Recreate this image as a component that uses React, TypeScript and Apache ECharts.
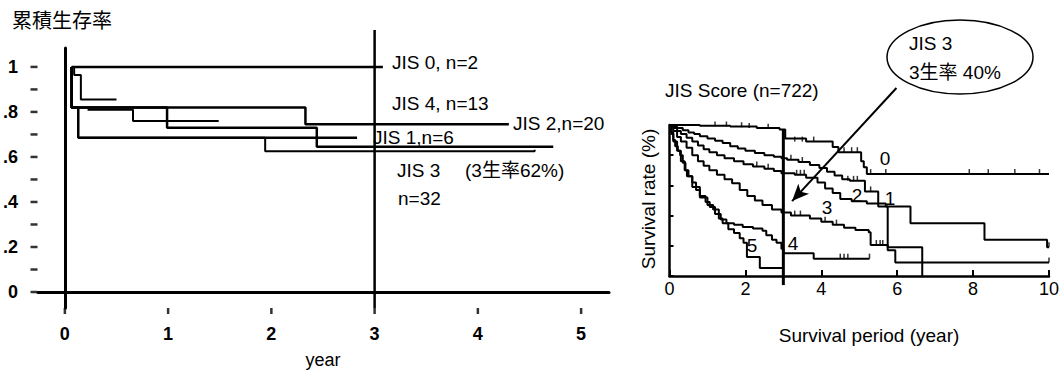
import React, { useEffect, useRef } from 'react';
import * as echarts from 'echarts';

// ---------- Left chart (累積生存率) ----------
const leftYearTicks = [0, 1, 2, 3, 4, 5];
const leftRateTicks = [0, 0.1, 0.2, 0.3, 0.4, 0.5, 0.6, 0.7, 0.8, 0.9, 1.0];
const leftRateLabels = [0, 0.2, 0.4, 0.6, 0.8, 1.0];
const leftXMin = -0.26;
const leftXMax = 5.27;
const leftYMin = -0.071;
const leftYMax = 1.084;

// [time (year), survival after event]
const jis0Left = [[0.065, 1.0], [3.08, 1.0]];
const jis4Left = [[0.065, 1.0], [0.09, 0.964], [0.155, 0.855], [0.5, 0.855]];
const jis4bLeft = [[0.22, 0.81], [0.66, 0.76], [1.49, 0.76]];
const jis2Left = [[0.065, 1.0], [0.065, 0.82], [2.33, 0.745], [4.3, 0.745]];
const jis1Left = [[0.065, 1.0], [0.065, 0.82], [0.13, 0.685], [2.83, 0.685]];
const jis3Left = [[0.065, 1.0], [0.065, 0.82], [0.99, 0.73], [2.44, 0.645], [4.73, 0.645]];
const jis3bLeft = [[0.13, 0.685], [1.94, 0.625], [4.55, 0.632]];
const threeYearLeft = [[3, -0.071], [3, 1.164]];

// ---------- Right chart (JIS Score n=722) ----------
const score0 = [[0, 100], [0.8, 99.5], [1.6, 99], [2.3, 98], [2.9, 97], [3.05, 91], [3.6, 89], [4.3, 85.5], [4.45, 82], [5.05, 76], [5.12, 72], [5.2, 67.5], [10, 67.5]];
const score1 = [[0, 100], [0.1, 99], [0.2, 98], [0.35, 96.5], [0.5, 95], [0.65, 94], [0.8, 92.5], [1.0, 91], [1.2, 89.5], [1.4, 88], [1.6, 86], [1.8, 84.5], [2.0, 83], [2.25, 81.5], [2.5, 80], [2.75, 79], [2.95, 78], [3.1, 77], [3.4, 75.5], [3.7, 73.5], [3.95, 71.5], [4.15, 69], [4.35, 66.5], [4.55, 64], [4.75, 63], [5.15, 56], [5.5, 46], [6.35, 35], [8.3, 24], [9.95, 19], [10, 19]];
const score2 = [[0, 100], [0.1, 98], [0.2, 96], [0.3, 94], [0.45, 91.5], [0.6, 89], [0.75, 86.5], [0.9, 84], [1.05, 82], [1.25, 80], [1.45, 78], [1.7, 76], [1.95, 74], [2.2, 72.5], [2.5, 71], [2.75, 69.5], [2.95, 68], [3.3, 67], [3.6, 65], [3.9, 62], [4.1, 58], [4.3, 55], [4.5, 51], [4.8, 49.5], [5.2, 48], [5.7, 46], [5.75, 19], [6.66, 0]];
const score3 = [[0, 100], [0.1, 96], [0.2, 92], [0.3, 89], [0.45, 85], [0.6, 80], [0.75, 76], [0.9, 73], [1.05, 70], [1.25, 67], [1.45, 64], [1.65, 61.5], [1.85, 57], [2.05, 53], [2.25, 50], [2.45, 47], [2.7, 44], [2.95, 42], [3.2, 40], [3.7, 38], [4.0, 36], [4.3, 34], [4.6, 32], [4.9, 30.5], [5.25, 29], [5.3, 20.5], [5.75, 17], [5.95, 9], [10, 9]];
const score4 = [[0, 100], [0.05, 95], [0.1, 90], [0.15, 86], [0.22, 83], [0.28, 80], [0.35, 75], [0.42, 70], [0.5, 66], [0.6, 62], [0.7, 57], [0.8, 53], [0.95, 49], [1.06, 45.7], [1.2, 41], [1.35, 37.5], [1.5, 35], [1.7, 34], [1.93, 32.5], [2.2, 31.5], [2.45, 30], [2.55, 27], [2.7, 24], [2.82, 22], [2.95, 18], [3.0, 15], [3.8, 11.5], [5.27, 11.5]];
const score5 = [[0, 100], [0.05, 94], [0.1, 89], [0.2, 83], [0.3, 76], [0.4, 70], [0.46, 66], [0.6, 59], [0.8, 52], [1.0, 47], [1.15, 44], [1.3, 38], [1.4, 35], [1.55, 31], [1.7, 28.5], [1.85, 25], [1.95, 22], [2.04, 12.6], [2.38, 5.3], [3.0, 5.3]];
const censorRight = [
  [1.2, 99], [1.5, 99], [1.9, 98.5], [2.1, 98], [2.6, 97.5], [3.3, 89], [3.5, 89], [3.8, 89], [4.6, 82], [4.8, 82], [4.95, 82],
  [5.3, 67.5], [5.7, 67.5], [7.9, 67.5], [8.4, 67.5], [9.1, 67.5], [9.75, 67.5],
  [3.2, 77], [3.5, 75.5], [4.7, 63], [4.85, 63], [4.95, 63], [5.3, 56], [10, 19],
  [3.35, 67], [3.45, 67], [3.55, 67], [2.3, 72.5], [2.6, 71],
  [3.3, 40], [3.45, 40], [4.1, 36], [4.4, 34], [5.45, 20.5], [5.55, 20.5], [5.62, 20.5], [10, 9],
  [4.5, 11.5], [4.6, 11.5], [4.7, 11.5], [5.27, 11.5], [3.0, 5.3],
];
const threeYearRight = [[3, -6], [3, 97]];
const arrowRight = [[5.98, 124.5], [3.23, 49.6]];

const FONT = '"Liberation Sans", Arial, "Noto Sans CJK JP", sans-serif';
const CJK = '"Noto Sans CJK JP", "Liberation Sans", sans-serif';

function stepSeries(data: number[][], grid: number, width: number) {
  return {
    type: 'line', xAxisIndex: grid, yAxisIndex: grid, data, step: 'end',
    symbol: 'none', lineStyle: { color: '#000', width }, silent: true,
  };
}

function txt(text: string, x: number, y: number, size: number, extra: any = {}) {
  return {
    type: 'text', x, y, ...extra,
    style: { text, fill: '#000', font: `${size}px ${FONT}`, textAlign: 'left', textVerticalAlign: 'middle', ...(extra.style || {}) },
  };
}

export default function App() {
  const ref = useRef<HTMLDivElement>(null);
  useEffect(() => {
    if (!ref.current) return;
    const chart = echarts.init(ref.current, undefined, { renderer: 'svg' });
    const leftLabel = (v: number) => (v === 0 ? '0' : v === 1 ? '1' : '.' + Math.round(v * 10));
    const yTickMarks = leftRateTicks.map((v) => [leftXMin, v]);
    const xTickMarks = leftYearTicks.map((v) => [v, leftYMin]);
    const option: any = {
      animation: false,
      backgroundColor: '#fff',
      grid: [
        { left: 37, right: 453, top: 48, bottom: 65 },
        { left: 669.5, right: 12, top: 125, bottom: 97 },
      ],
      xAxis: [
        {
          gridIndex: 0, type: 'value', min: leftXMin, max: leftXMax,
          axisLine: { lineStyle: { color: '#000', width: 3 } },
          axisTick: { show: false },
          axisLabel: { color: '#000', fontSize: 18, fontWeight: 'bold', fontFamily: FONT, margin: 17, customValues: leftYearTicks },
          splitLine: { show: false },
        },
        {
          gridIndex: 1, type: 'value', min: 0, max: 10, interval: 2,
          axisLine: { lineStyle: { color: '#000', width: 2.5 } },
          axisTick: { inside: true, length: 6, lineStyle: { color: '#000', width: 2 } },
          axisLabel: { color: '#000', fontSize: 18, fontFamily: FONT, margin: 4 },
          splitLine: { show: false },
        },
      ],
      yAxis: [
        {
          gridIndex: 0, type: 'value', min: leftYMin, max: leftYMax,
          axisLine: { show: true, lineStyle: { color: '#000', width: 3 } },
          axisTick: { show: false },
          axisLabel: { color: '#000', fontSize: 18, fontWeight: 'bold', fontFamily: FONT, margin: 20, customValues: leftRateLabels, formatter: leftLabel },
          splitLine: { show: false },
        },
        {
          gridIndex: 1, type: 'value', min: 0, max: 100, interval: 20,
          axisLine: { show: true, lineStyle: { color: '#000', width: 2.5 } },
          axisTick: { show: true, inside: true, length: 4, lineStyle: { color: '#000', width: 2 } },
          axisLabel: { show: false },
          splitLine: { show: false },
        },
      ],
      series: [
        {
          type: 'scatter', xAxisIndex: 0, yAxisIndex: 0, data: yTickMarks, symbol: 'rect', clip: false,
          symbolSize: [7, 2.5], symbolOffset: [-4, 0], itemStyle: { color: '#000' }, silent: true,
        },
        {
          type: 'scatter', xAxisIndex: 0, yAxisIndex: 0, data: xTickMarks, symbol: 'rect', clip: false,
          symbolSize: [2.5, 6], symbolOffset: [0, 3], itemStyle: { color: '#000' }, silent: true,
        },
        stepSeries(jis0Left, 0, 2.5),
        stepSeries(jis4Left, 0, 2),
        stepSeries(jis4bLeft, 0, 2),
        stepSeries(jis2Left, 0, 2.5),
        stepSeries(jis1Left, 0, 2.5),
        stepSeries(jis3Left, 0, 2.5),
        stepSeries(jis3bLeft, 0, 2),
        { type: 'line', xAxisIndex: 0, yAxisIndex: 0, data: threeYearLeft, symbol: 'none', clip: false, lineStyle: { color: '#000', width: 2.5 }, silent: true },
        stepSeries(score0, 1, 2),
        stepSeries(score1, 1, 2),
        stepSeries(score2, 1, 2),
        stepSeries(score3, 1, 2),
        stepSeries(score4, 1, 2),
        stepSeries(score5, 1, 2),
        {
          type: 'scatter', xAxisIndex: 1, yAxisIndex: 1, data: censorRight, symbol: 'rect',
          symbolSize: [1.5, 5], symbolOffset: [0, -2.5], itemStyle: { color: '#000' }, silent: true,
        },
        { type: 'line', xAxisIndex: 1, yAxisIndex: 1, data: threeYearRight, symbol: 'none', clip: false, lineStyle: { color: '#000', width: 3 }, silent: true },
        {
          type: 'line', xAxisIndex: 1, yAxisIndex: 1, data: arrowRight, clip: false, silent: true,
          showSymbol: true, showAllSymbol: true,
          symbol: (_v: any, p: any) => (p.dataIndex === 1 ? 'arrow' : 'none'),
          symbolSize: [11, 17], symbolRotate: 137,
          itemStyle: { color: '#000' }, lineStyle: { color: '#000', width: 2 },
        },
      ],
      graphic: {
        elements: [
          { type: 'text', x: 12, y: 19, style: { text: '累積生存率', fill: '#000', font: `20px ${CJK}`, textAlign: 'left', textVerticalAlign: 'middle' } },
          txt('JIS 0, n=2', 392, 62, 19),
          txt('JIS 4, n=13', 392, 103, 19),
          txt('JIS 2,n=20', 513, 123, 19),
          txt('JIS 1,n=6', 373, 137, 19),
          txt('JIS 3', 397, 170, 19),
          txt('(3生率62%)', 465, 170, 19),
          txt('n=32', 398, 198, 19),
          txt('year', 323, 360, 18, { style: { textAlign: 'center' } }),
          txt('JIS Score (n=722)', 665, 90, 19),
          txt('0', 885, 158, 19, { style: { textAlign: 'center' } }),
          txt('2', 857, 195, 19, { style: { textAlign: 'center' } }),
          txt('1', 890, 198, 19, { style: { textAlign: 'center' } }),
          txt('3', 827, 207, 19, { style: { textAlign: 'center' } }),
          txt('4', 793, 243, 19, { style: { textAlign: 'center' } }),
          txt('5', 752, 245, 19, { style: { textAlign: 'center' } }),
          txt('Survival period (year)', 869, 335, 19, { style: { textAlign: 'center' } }),
          txt('Survival rate (%)', 648, 199, 19, { rotation: Math.PI / 2, style: { textAlign: 'center' } }),
          { type: 'ellipse', shape: { cx: 960, cy: 57, rx: 73, ry: 37 }, style: { fill: 'none', stroke: '#000', lineWidth: 1.5 } },
          txt('JIS 3', 909, 43, 19),
          txt('3生率 40%', 909, 72, 19),
        ],
      },
    };
    chart.setOption(option);
    return () => chart.dispose();
  }, []);
  return <div ref={ref} style={{ position: 'absolute', left: 0, top: 0, width: 1062, height: 373, background: '#fff' }} />;
}
